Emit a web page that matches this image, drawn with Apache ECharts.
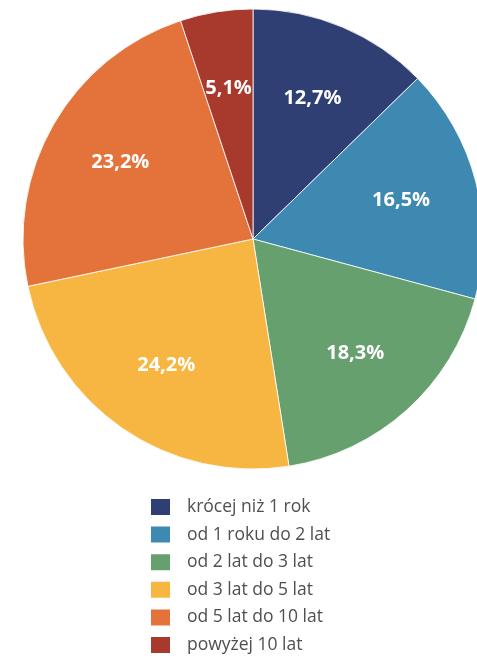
<!DOCTYPE html>
<html>
<head>
<meta charset="utf-8">
<script src="https://cdn.jsdelivr.net/npm/echarts@6/dist/echarts.min.js"></script>
<style>
html, body { margin: 0; padding: 0; background: #fff; }
#chart { width: 477px; height: 661px; }
</style>
</head>
<body>
<div id="chart"></div>
<script>
const categories = [
	"krócej niż 1 rok",
	"od 1 roku do 2 lat",
	"od 2 lat do 3 lat",
	"od 3 lat do 5 lat",
	"od 5 lat do 10 lat",
	"powyżej 10 lat"
];
const shares = [12.7, 16.5, 18.3, 24.2, 23.2, 5.1];
const colors = ["#2f3f73", "#3e89b1", "#67a06f", "#f7b541", "#e3733a", "#a8392d"];

const chart = echarts.init(document.getElementById("chart"));

const pieData = categories.map((name, i) => ({ name: name, value: shares[i] }));

const option = {
	color: colors,
	animation: false,
	legend: {
		orient: "vertical",
		left: 149,
		top: 497,
		height: 164,
		padding: 0,
		itemWidth: 21,
		itemHeight: 18,
		itemGap: 7.6,
		icon: "rect",
		textStyle: {
			fontFamily: "Open Sans",
			fontSize: 17.5,
			color: "#4f4f4f",
			padding: [0, 0, 0, 11]
		},
		data: categories
	},
	series: [
		{
			type: "pie",
			center: [253, 239],
			radius: [0, 230],
			startAngle: 90,
			clockwise: true,
			label: { show: false },
			labelLine: { show: false },
			itemStyle: { borderColor: "#fff", borderWidth: 0.8 },
			data: pieData
		},
		{
			// transparent copy used only to place labels farther out
			type: "pie",
			center: [253, 239],
			radius: [0, 300],
			startAngle: 90,
			clockwise: true,
			silent: true,
			legendHoverLink: false,
			itemStyle: { color: "transparent" },
			label: {
				show: true,
				position: "inside",
				color: "#fff",
				fontFamily: "Open Sans",
				fontWeight: "bold",
				fontSize: 20,
				formatter: p => p.value.toFixed(1).replace(".", ",") + "%"
			},
			labelLine: { show: false },
			data: pieData
		}
	]
};

chart.setOption(option);
window.onresize = chart.resize;
</script>
</body>
</html>
